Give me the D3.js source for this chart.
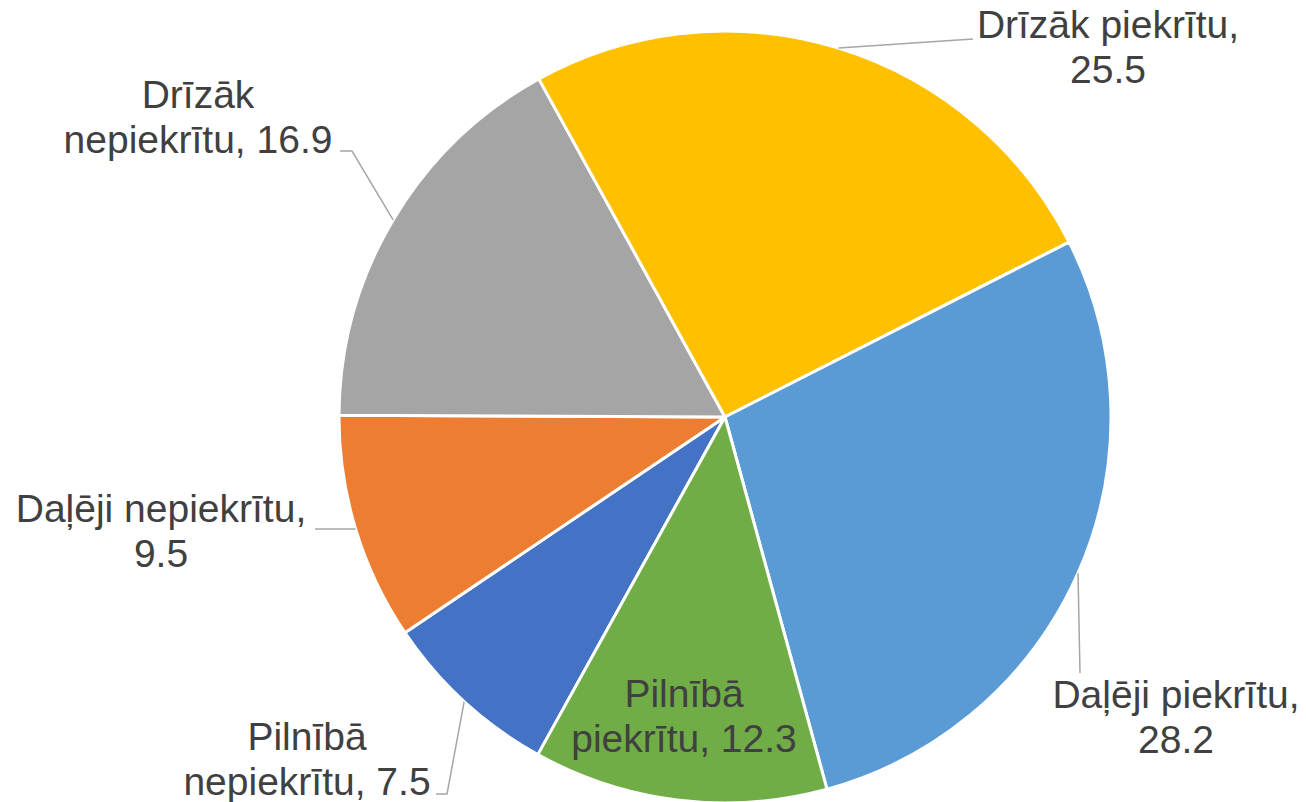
<!DOCTYPE html>
<html>
<head>
<meta charset="utf-8">
<script src="https://cdn.jsdelivr.net/npm/d3@7"></script>
<style>
  body { margin: 0; background: #fff; }
  text { font-family: "Liberation Sans", Arial, sans-serif; fill: #404040; }
</style>
</head>
<body>
<script>
 ///////////////////////////////////////////////////////
 // data (series order as in the source sheet)

 var categories = ["Pilnībā nepiekrītu", "Daļēji nepiekrītu", "Drīzāk nepiekrītu",
   "Drīzāk piekrītu", "Daļēji piekrītu", "Pilnībā piekrītu"];
 var values = [7.5, 9.5, 16.9, 25.5, 28.2, 12.3];
 // how each data label breaks into lines
 var labelLines = [
   ["Pilnībā", "nepiekrītu, 7.5"],
   ["Daļēji nepiekrītu,", "9.5"],
   ["Drīzāk", "nepiekrītu, 16.9"],
   ["Drīzāk piekrītu,", "25.5"],
   ["Daļēji piekrītu,", "28.2"],
   ["Pilnībā", "piekrītu, 12.3"]
 ];
 var colors = ["#4472C4", "#ED7D31", "#A5A5A5", "#FFC000", "#5B9BD5", "#70AD47"];

 ///////////////////////////////////////////////////////
 // margins

 var w = 1306;
 var h = 802;
 var svg = d3.select("body").append("svg")
   .attr("width", w)
   .attr("height", h);

 var cx = 725,
   cy = 417,
   radius = 386,
   firstSliceAngle = 209; // degrees, like excel's "angle of first slice"

 // label placement: centre x / first baseline, and the bend points of the leader line
 var labelLayout = [
   { x: 307, y: 750, leader: [[447, 794], [436, 794]] },
   { x: 161, y: 522, leader: [[315, 529]] },
   { x: 198, y: 108, leader: [[352, 151], [340, 151]] },
   { x: 1108, y: 38, leader: [[973, 39]] },
   { x: 1176, y: 708, leader: [[1080, 673]] },
   { x: 684, y: 707, leader: null }
 ];
 var lineHeight = 45;

 ///////////////////////////////////////////////////////
 // pie

 var rad = Math.PI / 180;
 var pie = d3.pie()
   .sort(null)
   .startAngle(firstSliceAngle * rad)
   .endAngle((firstSliceAngle + 360) * rad);

 var arc = d3.arc()
   .innerRadius(0)
   .outerRadius(radius);
 var edgeArc = d3.arc() // used to find the point on the rim for leader lines
   .innerRadius(radius)
   .outerRadius(radius);

 var slices = pie(values);

 var chart = svg.append("g")
   .attr("transform", "translate(" + cx + "," + cy + ")");

 chart.selectAll(".slice")
   .data(slices)
   .enter().append("path")
   .classed("slice", true)
   .attr("d", arc)
   .style("fill", function(d, i) { return colors[i]; })
   .style("stroke", "#fff")
   .style("stroke-width", 3)
   .style("stroke-linejoin", "round");

 ///////////////////////////////////////////////////////
 // leader lines + labels

 var line = d3.line();

 slices.forEach(function(s, i) {
   var lay = labelLayout[i];
   if (lay.leader) {
     var start = edgeArc.centroid(s);
     var pts = [[start[0] + cx, start[1] + cy]].concat(lay.leader);
     svg.append("path")
       .attr("d", line(pts))
       .style("fill", "none")
       .style("stroke", "#a6a6a6")
       .style("stroke-width", 1.5);
   }
   var t = svg.append("text")
     .attr("text-anchor", "middle")
     .style("font-size", "39px");
   labelLines[i].forEach(function(str, k) {
     t.append("tspan")
       .attr("x", lay.x)
       .attr("y", lay.y + k * lineHeight)
       .text(str);
   });
 });
</script>
</body>
</html>
